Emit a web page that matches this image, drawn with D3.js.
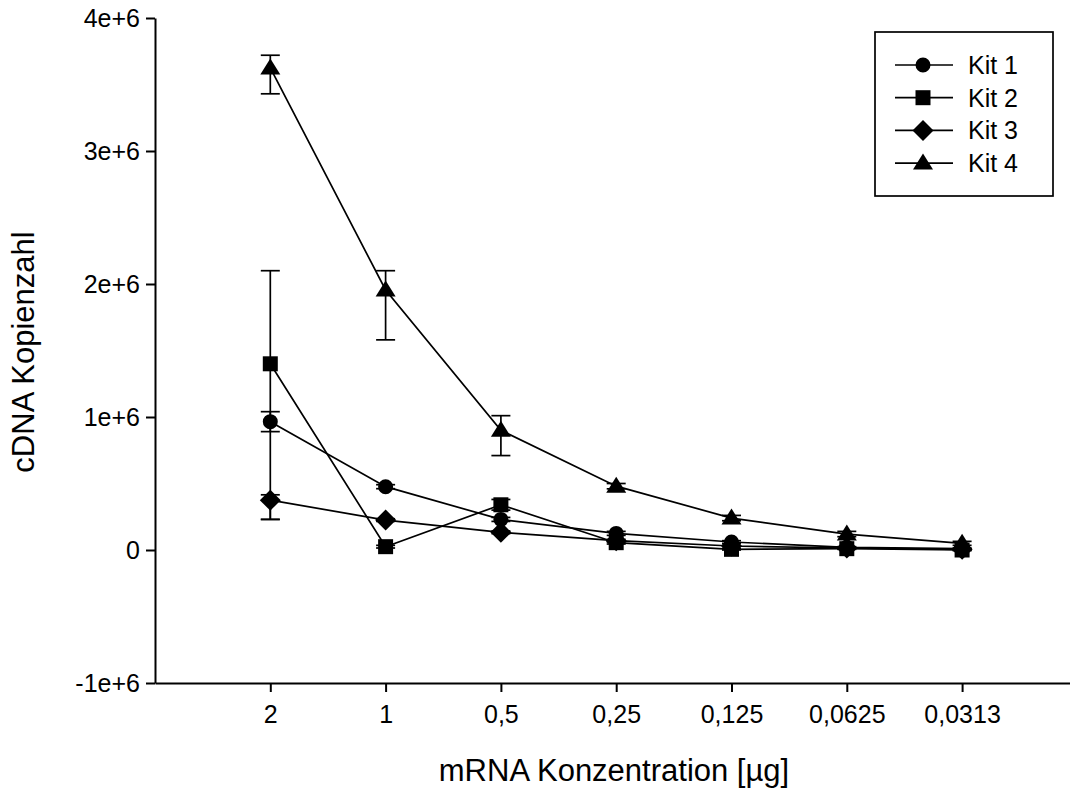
<!DOCTYPE html>
<html>
<head>
<meta charset="utf-8">
<script src="https://cdn.jsdelivr.net/npm/d3@7"></script>
<style>
  html, body { margin: 0; padding: 0; background: #fff; }
  svg { display: block; font-family: "Liberation Sans", Arial, sans-serif; }
</style>
</head>
<body>
<svg id="chart" width="1070" height="791"></svg>
<script>
// mRNA amounts (µg) on the x axis
const categories = ["2", "1", "0,5", "0,25", "0,125", "0,0625", "0,0313"];

// cDNA copy numbers per kit
const kit1 = [965000, 476000, 230000, 125000, 60000, 20000, 10000];
const kit2 = [1400000, 25000, 340000, 55000, 5000, 10000, 0];
const kit3 = [375000, 225000, 133000, 70000, 30000, 15000, 5000];
const kit4 = [3625000, 1955000, 900000, 480000, 240000, 120000, 50000];

// error bar extents above / below each mean
const kit1ErrUp   = [75000, 15000, 15000, 15000, 10000, 5000, 5000];
const kit1ErrDown = [75000, 15000, 15000, 15000, 10000, 5000, 5000];
const kit2ErrUp   = [700000, 10000, 40000, 10000, 5000, 5000, 5000];
const kit2ErrDown = [1170000, 10000, 40000, 10000, 5000, 5000, 5000];
const kit3ErrUp   = [40000, 10000, 10000, 10000, 5000, 5000, 5000];
const kit3ErrDown = [145000, 10000, 10000, 10000, 5000, 5000, 5000];
const kit4ErrUp   = [95000, 145000, 110000, 20000, 20000, 20000, 15000];
const kit4ErrDown = [195000, 375000, 190000, 20000, 20000, 20000, 15000];

const seriesNames = ["Kit 1", "Kit 2", "Kit 3", "Kit 4"];
const yTicks = [-1000000, 0, 1000000, 2000000, 3000000, 4000000];

const series = [
  { name: seriesNames[0], shape: "circle",   values: kit1, up: kit1ErrUp, down: kit1ErrDown },
  { name: seriesNames[1], shape: "square",   values: kit2, up: kit2ErrUp, down: kit2ErrDown },
  { name: seriesNames[2], shape: "diamond",  values: kit3, up: kit3ErrUp, down: kit3ErrDown },
  { name: seriesNames[3], shape: "triangle", values: kit4, up: kit4ErrUp, down: kit4ErrDown }
];

const svg = d3.select("#chart");
const plotLeft = 155, plotTop = 18, plotBottom = 683;
const step = 115.3;

const x = d3.scaleLinear().domain([0, 8]).range([plotLeft, plotLeft + 8 * step]);
const y = d3.scaleLinear().domain([-1000000, 4000000]).range([plotBottom, plotTop]);

const fmtY = v => v === 0 ? "0" : (v / 1e6) + "e+6";

// axes
const yAxis = svg.append("g")
  .attr("transform", `translate(${plotLeft},0)`)
  .call(d3.axisLeft(y).tickValues(yTicks).tickFormat(fmtY).tickSize(9).tickSizeOuter(0).tickPadding(6));
const xAxis = svg.append("g")
  .attr("transform", `translate(0,${plotBottom})`)
  .call(d3.axisBottom(x).tickValues(d3.range(1, 8)).tickFormat(i => categories[i - 1]).tickSize(9).tickSizeOuter(0).tickPadding(12));

[yAxis, xAxis].forEach(g => {
  g.select(".domain").attr("stroke", "#000").attr("stroke-width", 2);
  g.selectAll(".tick line").attr("stroke", "#000").attr("stroke-width", 2);
  g.selectAll(".tick text").attr("fill", "#000").attr("font-size", 25)
    .attr("font-family", "Liberation Sans, Arial, sans-serif");
});
xAxis.selectAll(".tick text").attr("dy", "0.75em");

// axis titles
svg.append("text")
  .attr("x", 614).attr("y", 781)
  .attr("text-anchor", "middle")
  .attr("font-size", 31)
  .text("mRNA Konzentration [µg]");
svg.append("text")
  .attr("transform", "translate(34,352) rotate(-90)")
  .attr("text-anchor", "middle")
  .attr("font-size", 31)
  .text("cDNA Kopienzahl");

// marker shapes
function markerPath(shape, cx, cy) {
  switch (shape) {
    case "circle":
      return `M${cx - 7.5},${cy}a7.5,7.5 0 1,0 15,0a7.5,7.5 0 1,0 -15,0Z`;
    case "square":
      return `M${cx - 7.5},${cy - 7.5}h15v15h-15Z`;
    case "diamond":
      return `M${cx},${cy - 10.5}L${cx + 10.5},${cy}L${cx},${cy + 10.5}L${cx - 10.5},${cy}Z`;
    case "triangle":
      return `M${cx},${cy - 9.5}L${cx + 10},${cy + 6.5}L${cx - 10},${cy + 6.5}Z`;
  }
}

const line = d3.line().x((d, i) => x(i + 1)).y(d => y(d));
const plot = svg.append("g");

series.forEach(s => {
  const g = plot.append("g");
  g.append("path")
    .attr("d", line(s.values))
    .attr("fill", "none").attr("stroke", "#000").attr("stroke-width", 1.7);

  s.values.forEach((v, i) => {
    const cx = x(i + 1);
    const yHi = y(v + s.up[i]);
    const yLo = y(v - s.down[i]);
    g.append("line").attr("x1", cx).attr("x2", cx).attr("y1", yHi).attr("y2", yLo)
      .attr("stroke", "#000").attr("stroke-width", 1.7);
    [yHi, yLo].forEach(yy => {
      g.append("line").attr("x1", cx - 9.5).attr("x2", cx + 9.5).attr("y1", yy).attr("y2", yy)
        .attr("stroke", "#000").attr("stroke-width", 1.7);
    });
  });

  s.values.forEach((v, i) => {
    g.append("path").attr("d", markerPath(s.shape, x(i + 1), y(v))).attr("fill", "#000");
  });
});

// legend
const legend = svg.append("g");
legend.append("rect")
  .attr("x", 875).attr("y", 32).attr("width", 178).attr("height", 164)
  .attr("fill", "#fff").attr("stroke", "#000").attr("stroke-width", 1.7);
series.forEach((s, i) => {
  const ly = 65 + i * 32.7;
  legend.append("line").attr("x1", 895).attr("x2", 953).attr("y1", ly).attr("y2", ly)
    .attr("stroke", "#000").attr("stroke-width", 1.7);
  legend.append("path").attr("d", markerPath(s.shape, 923, ly)).attr("fill", "#000");
  legend.append("text").attr("x", 968).attr("y", ly).attr("dy", "0.36em")
    .attr("font-size", 25).text(s.name);
});
</script>
</body>
</html>
